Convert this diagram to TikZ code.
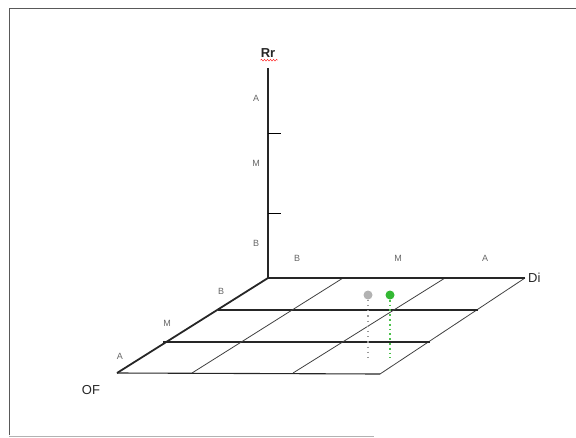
\documentclass[tikz,border=0pt]{standalone}
\usepackage{fontspec}
\setmainfont{Liberation Sans}
\usetikzlibrary{positioning,decorations.pathmorphing}

\begin{document}
\begin{tikzpicture}[x=1pt, y=-1pt,
    axis/.style={line width=1.8pt, black!85},
    gridline/.style={line width=1.1pt, black!85},
    slant/.style={line width=0.8pt, black!75},
    lvl/.style={text=black!60, font=\fontsize{9}{10}\selectfont, inner sep=0pt},
    axlabel/.style={text=black!85, font=\fontsize{13}{14}\selectfont, inner sep=0pt},
    dot/.style={circle, inner sep=0pt, minimum size=9pt},
]
    \useasboundingbox (0,0) rectangle (576,437);
    % frame
    \draw[black!65, line width=1pt] (9,435) -- (9,8) -- (576,8);
    \draw[black!30, line width=0.6pt] (9,436) -- (374,436);

    % corners of the base plane
    \coordinate (origin) at (268,278);
    \coordinate (diEnd) at (525,278);
    \coordinate (ofEnd) at (117,373);
    \coordinate (corner) at (380,374);
    \coordinate (rrEnd) at (268,68);

    % grid on the base plane
    \draw[gridline] (ofEnd) -- (corner);
    \draw[slant] (diEnd) -- (corner);
    \draw[gridline] (218,310) -- (478,310);
    \draw[gridline] (163,342) -- (430,342);
    \draw[slant] (343,278) -- (192,373);
    \draw[slant] (445,278) -- (293,373);

    % axes
    \draw[axis] (ofEnd) -- (origin) -- (rrEnd);
    \draw[axis] (origin) -- (diEnd);
    \draw[line width=1pt] (268,133) -- (281,133);
    \draw[line width=1pt] (268,213) -- (281,213);

    % axis names
    \node[axlabel, font=\fontsize{13}{14}\selectfont\bfseries] (rr) at (268,53) {Rr};
    \draw[red!80, line width=0.5pt, decorate, decoration={snake, amplitude=0.9pt, segment length=3pt}]
        (rr.south west) ++(0,2.5) -- ++(17,0);
    \node[axlabel, anchor=west] (di) at (diEnd) [xshift=3pt] {Di};
    \node[axlabel] (of) at (91,390) {OF};

    % levels
    \node[lvl] (rrA) at (256,98) {A};
    \node[lvl] (rrM) at (256,163) {M};
    \node[lvl] (rrB) at (256,243) {B};
    \node[lvl] (diB) at (297,258) {B};
    \node[lvl] (diM) at (398,258) {M};
    \node[lvl] (diA) at (485,258) {A};
    \node[lvl] (ofB) at (221,291) {B};
    \node[lvl] (ofM) at (167,323) {M};
    \node[lvl] (ofA) at (120,356) {A};

    % points
    \node[dot, fill=black!30] (grey) at (368,295) {};
    \node[dot, fill=green!65!black!80] (green) at (390,295) {};
    \coordinate (greyFoot) at (368,358);
    \coordinate (greenFoot) at (390,358);
    \draw[black!40, line width=1.2pt, dash pattern=on 1.2pt off 4pt] (grey) -- (greyFoot);
    \draw[green!65!black!70, line width=1.8pt, dash pattern=on 1.8pt off 3pt] (green) -- (greenFoot);
\end{tikzpicture}
\end{document}
